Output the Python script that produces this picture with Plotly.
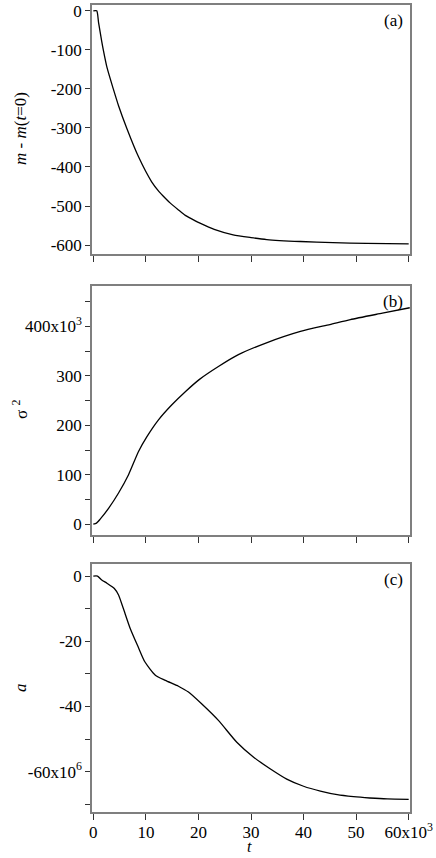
import plotly.graph_objects as go
from plotly.subplots import make_subplots

# panel (a): m - m(t=0), t in units of 10^3
t_a = [0, 0.65, 1.0, 1.6, 1.9, 2.6, 3.8, 4.8, 6.4, 8.6, 11.1, 12.5, 13.7, 14.6, 16.2,
       17.5, 19.4, 20.3, 23, 26.6, 30, 33, 39.4, 45.6, 52, 60]
m_a = [0, 0, -30, -78, -100, -145, -200, -243, -302, -374, -438, -463, -480, -492,
       -510, -524, -538, -544, -560, -574, -581, -586, -591, -594, -596, -597]

# panel (b): sigma^2 in units of 10^3
t_b = [0, 0.6, 1.3, 2.9, 4.8, 6.7, 8.6, 10.2, 12.4, 14.9, 17.5, 20.2, 23.8, 27.6,
       32.7, 39.4, 45, 48.9, 55, 60.2]
s_b = [0, 2, 10, 32, 63, 100, 147, 177, 211, 241, 268, 293, 319, 343, 366, 390,
       404, 414, 427, 438]

# panel (c): a in units of 10^6
t_c = [0, 0.8, 1.6, 2.6, 4.0, 4.8, 5.7, 7.0, 8.6, 9.8, 11.8, 13.7, 16.2, 18.1, 20.6,
       23.8, 27.3, 30.5, 33.7, 36.8, 40, 43.2, 46.4, 49.5, 52.6, 55.9, 60]
a_c = [0, 0, -1.2, -2.2, -3.8, -5.8, -9.9, -16, -22, -26.3, -30.4, -32, -33.8, -35.6,
       -39.2, -44.3, -51, -55.6, -59.2, -62.3, -64.5, -66, -67.1, -67.7, -68.1,
       -68.4, -68.5]

x_vals = [0, 10, 20, 30, 40, 50, 60]
x_text = ["0", "10", "20", "30", "40", "50", "60x10<sup>3</sup>"]
ya_vals = [0, -100, -200, -300, -400, -500, -600]
ya_text = ["0", "-100", "-200", "-300", "-400", "-500", "-600"]
yb_vals = [0, 100, 200, 300, 400]
yb_text = ["0", "100", "200", "300", "400x10<sup>3</sup>"]
yb_minor = [50, 150, 250, 350, 450]
yc_vals = [0, -20, -40, -60]
yc_text = ["0", "-20", "-40", "-60x10<sup>6</sup>"]
yc_minor = [-10, -30, -50, -70]

FONT = "Liberation Serif"
W, H = 436, 858
L, R, T, B = 92, 26, 5, 46
ph = H - T - B

def dom(top, bot):
    return [(H - B - bot) / ph, (H - B - top) / ph]

line = dict(color="black", width=1.3, shape="spline", smoothing=0.6)
fig = make_subplots(rows=3, cols=1)
fig.add_trace(go.Scatter(x=t_a, y=m_a, mode="lines", line=line), 1, 1)
fig.add_trace(go.Scatter(x=t_b, y=s_b, mode="lines", line=line), 2, 1)
fig.add_trace(go.Scatter(x=t_c, y=a_c, mode="lines", line=line), 3, 1)

ax = dict(showline=True, linecolor="#7f7f7f", linewidth=1.5, mirror=True,
          ticks="outside", tickcolor="#333", tickwidth=1, showgrid=False,
          zeroline=False, automargin=False,
          tickfont=dict(family=FONT, size=17, color="black"))

for i, (top, bot) in enumerate([(5, 254), (286, 535), (564, 812)], start=1):
    fig.update_xaxes(ax, row=i, col=1, range=[-0.25, 60.25], tickmode="array",
                     tickvals=x_vals, ticktext=x_text, ticklen=6, ticklabelstandoff=-2,
                     showticklabels=(i == 3))
    fig.update_yaxes(ax, row=i, col=1, domain=dom(top, bot), ticklen=5, tickmode="array")

fig.update_yaxes(row=1, col=1, range=[-623, 15], tickvals=ya_vals, ticktext=ya_text)
fig.update_yaxes(row=2, col=1, range=[-22, 482], tickvals=yb_vals, ticktext=yb_text,
                 minor=dict(tickmode="array", tickvals=yb_minor, ticks="outside",
                            ticklen=5, tickcolor="#333"))
fig.update_yaxes(row=3, col=1, range=[-72.4, 3.7], tickvals=yc_vals, ticktext=yc_text,
                 minor=dict(tickmode="array", tickvals=yc_minor, ticks="outside",
                            ticklen=5, tickcolor="#333"))

tfont = dict(family=FONT, size=17, color="black")
for i, lab in enumerate(["(a)", "(b)", "(c)"], start=1):
    sfx = "" if i == 1 else str(i)
    fig.add_annotation(text=lab, xref="x" + sfx + " domain", yref="y" + sfx + " domain",
                       x=1, y=1, xanchor="right", yanchor="top", xshift=-5, yshift=-4,
                       showarrow=False, font=tfont)

ytitles = [("<i>m</i> - <i>m</i>(<i>t</i>=0)", 129), ("\u03c3 <sup>2</sup>", 410),
           ("<i>a</i>", 688)]
for txt, yc in ytitles:
    fig.add_annotation(text=txt, xref="paper", yref="paper", x=(20 - L) / (W - L - R),
                       y=(H - B - yc) / ph, xanchor="center", yanchor="middle",
                       textangle=-90, showarrow=False, font=tfont)

# x title sits in the bottom margin, just under the tick labels
fig.add_annotation(text="<i>t</i>", xref="paper", yref="paper", x=(249 - L) / (W - L - R),
                   y=0, yshift=-45, xanchor="center", yanchor="bottom",
                   showarrow=False, font=dict(family=FONT, size=16, color="black"))

fig.update_layout(width=W, height=H, margin=dict(l=L, r=R, t=T, b=B, autoexpand=False),
                  showlegend=False, plot_bgcolor="white", paper_bgcolor="white",
                  font=dict(family=FONT, size=17, color="black"))

# drop the browser's default 8px body margin so the figure sits at the page corner
fig.write_html("out.html", config={"displayModeBar": False},
               post_script="document.body.style.margin='0';")
